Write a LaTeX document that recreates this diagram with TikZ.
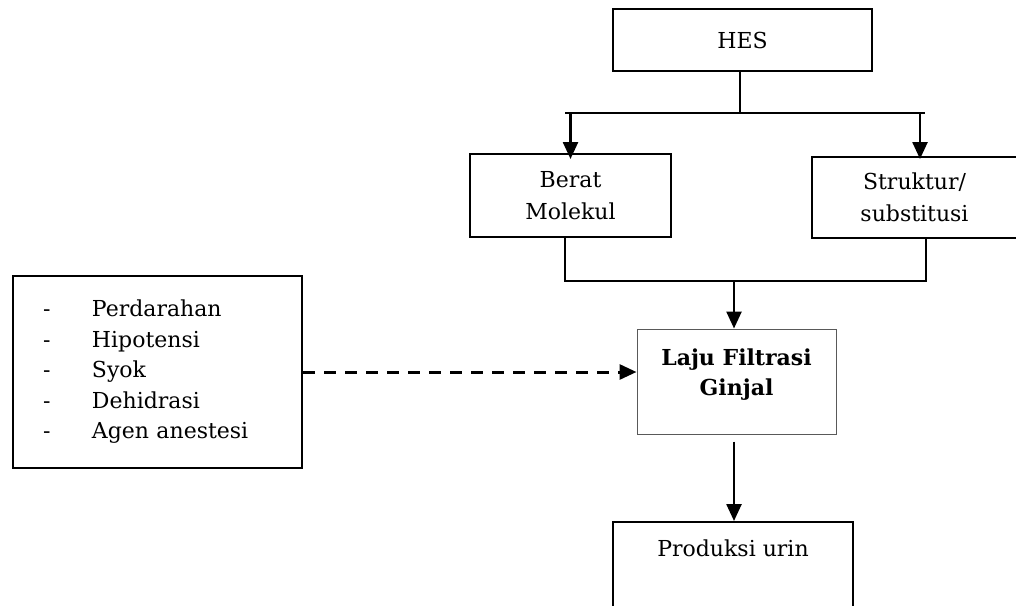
\documentclass[tikz,border=0pt]{standalone}
\usepackage{fontspec}
\setmainfont{DejaVu Serif}
\usetikzlibrary{positioning,arrows.meta}
\tikzset{every picture/.style={line width=2.5pt}}
\tikzset{
  box/.style={draw, rectangle, line width=2pt, inner sep=0pt, align=center, font=\fontsize{22}{32}\selectfont},
  flow/.style={-{Triangle[length=17pt,width=15pt]}, line width=2.5pt},
}

\begin{document}
\begin{tikzpicture}[x=1pt, y=-1pt]
    \useasboundingbox (0,0) rectangle (1016,605);
    \clip (0,0) rectangle (1016,605);
    % Boxes
    \node[box, minimum width=259pt, minimum height=62pt] (hes) at (742.5,40) {HES};
    \node[box, minimum width=201pt, minimum height=83pt] (berat) at (570.5,195.5) {Berat\\Molekul};
    \node[box, minimum width=205pt, minimum height=81pt] (struktur) at (914.5,197.5) {Struktur/\\substitusi};
    \node[box, draw=black!65, line width=1pt, minimum width=199pt, minimum height=105pt, font=\bfseries\fontsize{22}{30}\selectfont] (laju) at (736.5,381.5) {Laju Filtrasi\\Ginjal\rule[-19.6pt]{0pt}{0pt}};
    \node[box, anchor=north, minimum width=240pt, text height=17pt, text depth=80pt, inner ysep=17pt] (produksi) at (733,521) {Produksi urin};
    \node[box, align=left, text width=229pt, inner xsep=30pt, minimum height=192pt, font=\fontsize{22}{30.5}\selectfont] (factors) at (157.5,372)
      {\makebox[49pt][l]{-}Perdarahan\\
       \makebox[49pt][l]{-}Hipotensi\\
       \makebox[49pt][l]{-}Syok\\
       \makebox[49pt][l]{-}Dehidrasi\\
       \makebox[49pt][l]{-}Agen anestesi};

    % Connections
    \coordinate (split) at (740,113);
    \coordinate (splitL) at (565,113);
    \coordinate (splitR) at (925,113);
    \coordinate (join) at (734,281);
    \draw (hes.south -| split) -- (split);
    \draw (splitL) -- (splitR);
    \draw[flow, shorten >=-6pt] (splitL -| berat.north) -- (berat.north);
    \draw[flow, shorten >=-3pt] ([xshift=5.5pt]struktur.north |- splitR) -- ([xshift=5.5pt]struktur.north);
    \draw ([xshift=-5.5pt]berat.south) |- (join) -| ([xshift=11.5pt]struktur.south);
    \draw[flow] (join) -- (join |- laju.north);
    \draw[flow, shorten <=7pt] (laju.south -| join) -- (produksi.north -| join);
    \draw[flow, line width=3pt, dash pattern=on 12pt off 9pt] (factors.east) -- (factors.east -| laju.west);
\end{tikzpicture}
\end{document}
